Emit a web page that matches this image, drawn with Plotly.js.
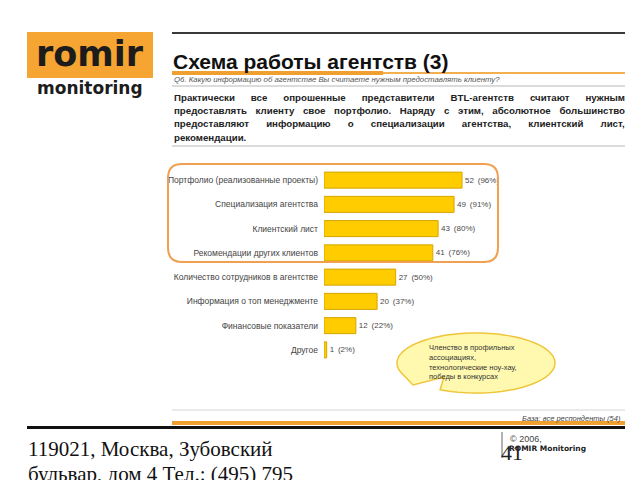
<!DOCTYPE html>
<html>
<head>
<meta charset="utf-8">
<script src="https://cdn.plot.ly/plotly-3.0.1.min.js"></script>
<style>html,body{margin:0;padding:0;background:#fff;}#chart{width:640px;height:480px;}</style>
</head>
<body>
<div id="chart"></div>
<script>
// ---------- data ----------
const categories = [
  "Портфолио (реализованные проекты)",
  "Специализация агентства",
  "Клиентский лист",
  "Рекомендации других клиентов",
  "Количество сотрудников в агентстве",
  "Информация о топ менеджменте",
  "Финансовые показатели",
  "Другое"
];
const counts = [52, 49, 43, 41, 27, 20, 12, 1];
const percents = [96, 91, 80, 76, 50, 37, 22, 2];

const titleText = "Схема работы агентств (3)";
const questionText = "Q6. Какую информацию об агентстве Вы считаете нужным предоставлять клиенту?";
const bodyLines = [
  "Практически все опрошенные представители BTL-агентств считают нужным",
  "предоставлять клиенту свое портфолио. Наряду с этим, абсолютное большинство",
  "предоставляют информацию о специализации агентства, клиентский лист,",
  "рекомендации."
];
const calloutLines = ["Членство в профильных", "ассоциациях,", "технологические ноу-хау,", "победы в конкурсах"];
const baseText = "База: все респонденты (54)";
const addressLines = ["119021, Москва, Зубовский", "бульвар, дом 4 Тел.: (495) 795"];

// ---------- helpers (pixel -> paper) ----------
const W = 640, H = 480;
const X = p => p / W;
const Y = p => 1 - p / H;
const pt = (x, y) => X(x).toFixed(5) + "," + Y(y).toFixed(5);

function hline(x0, x1, y, color, width) {
  return {type: "line", xref: "paper", yref: "paper", x0: X(x0), x1: X(x1), y0: Y(y), y1: Y(y),
          line: {color: color, width: width}};
}
function roundRect(x0, y0, x1, y1, r) {
  return "M" + pt(x0 + r, y0) + " L" + pt(x1 - r, y0) + " Q" + pt(x1, y0) + " " + pt(x1, y0 + r) +
         " L" + pt(x1, y1 - r) + " Q" + pt(x1, y1) + " " + pt(x1 - r, y1) +
         " L" + pt(x0 + r, y1) + " Q" + pt(x0, y1) + " " + pt(x0, y1 - r) +
         " L" + pt(x0, y0 + r) + " Q" + pt(x0, y0) + " " + pt(x0 + r, y0) + " Z";
}
function calloutPath(cx, cy, rx, ry, a0, a1, tail) {
  let s = "";
  const n = 90;
  for (let i = 0; i <= n; i++) {
    const a = (a0 + (a1 - a0) * i / n) * Math.PI / 180;
    const x = cx + rx * Math.cos(a), y = cy + ry * Math.sin(a);
    s += (i === 0 ? "M" : " L") + pt(x, y);
  }
  tail.forEach(p => { s += " L" + pt(p[0], p[1]); });
  return s + " Z";
}

function ann(text, x, y, opts) {
  return Object.assign({
    text: text, xref: "paper", yref: "paper", x: X(x), y: Y(y),
    xanchor: "left", yanchor: "middle", showarrow: false, align: "left",
    font: {family: "Arial, 'Liberation Sans', sans-serif", size: 10, color: "#222"}
  }, opts || {});
}

// ---------- trace ----------
const barText = counts.map((c, i) => c + "\u00A0\u2009(" + percents[i] + "%)");
const trace = {
  type: "bar",
  orientation: "h",
  y: categories,
  x: counts,
  text: barText,
  textposition: "outside",
  cliponaxis: false,
  constraintext: "none",
  textfont: {family: "Arial, 'Liberation Sans', sans-serif", size: 8, color: "#4a4a4a"},
  marker: {color: "#FFCC00", line: {color: "#D4A600", width: 1}},
  hoverinfo: "skip"
};

const pxPerUnit = 2.654;
const xMax = 75;
const barLeft = 324;

// ---------- layout ----------
const shapes = [
  {type: "rect", xref: "paper", yref: "paper", x0: X(27), x1: X(153), y0: Y(78), y1: Y(32),
   fillcolor: "#F7A532", line: {width: 0}},
  hline(172, 625, 33, "#3a3a3a", 2),
  hline(172, 383, 73, "#F0A030", 4),
  hline(383, 625, 73, "#F3B050", 2),
  hline(172, 625, 86, "#CFCFCF", 1.5),
  hline(172, 625, 146, "#CFCFCF", 1.5),
  {type: "path", xref: "paper", yref: "paper", path: roundRect(168, 164, 498, 262, 14),
   line: {color: "#F0A050", width: 2}, fillcolor: "rgba(0,0,0,0)"},
  {type: "path", xref: "paper", yref: "paper",
   path: calloutPath(476, 363, 79, 30, 117, -199.5, [[413, 385], [444, 377]]),
   line: {color: "#EFC53A", width: 1.5}, fillcolor: "#FFF9B0"},
  hline(172, 625, 410, "#D5D5D5", 1),
  hline(172, 625, 423, "#F0A030", 4),
  hline(27, 625, 427.5, "#111111", 3),
  {type: "line", xref: "paper", yref: "paper", x0: X(502), x1: X(502), y0: Y(432), y1: Y(458),
   line: {color: "#666", width: 1}}
];

const justifyIdx = [];
const annotations = [
  ann("romir", 90, 54, {xanchor: "center", align: "center", font: {family: "DejaVu Sans", size: 35, color: "#1c1c1c", weight: "bold"}}),
  ann("monitoring", 90, 88, {xanchor: "center", align: "center", font: {family: "DejaVu Sans", size: 17, color: "#1c1c1c", weight: "bold"}}),
  ann("<b>" + titleText + "</b>", 171, 62, {font: {family: "Arial, 'Liberation Sans', sans-serif", size: 21, color: "#111"}}),
  ann("<i>" + questionText + "</i>", 172, 80, {font: {family: "Arial, 'Liberation Sans', sans-serif", size: 7.8, color: "#555"}}),
  ann("<i>" + baseText + "</i>", 623, 418, {xanchor: "right", align: "right", font: {family: "Arial, 'Liberation Sans', sans-serif", size: 7.5, color: "#444"}}),
  ann(calloutLines.join("<br>"), 427, 362, {font: {family: "Arial, 'Liberation Sans', sans-serif", size: 7.5, color: "#333"}}),
  ann("© 2006,", 508, 439, {font: {family: "Arial, 'Liberation Sans', sans-serif", size: 9, color: "#444"}}),
  ann("<b>ROMIR Monitoring</b>", 507, 448, {font: {family: "DejaVu Sans", size: 7.5, color: "#222"}}),
  ann("41", 499, 452, {font: {family: "'Liberation Serif', 'Times New Roman', serif", size: 22, color: "#222"}}),
  ann(addressLines[0], 26, 449, {font: {family: "'Liberation Serif', 'Times New Roman', serif", size: 21, color: "#111"}}),
  ann(addressLines[1], 26, 474, {font: {family: "'Liberation Serif', 'Times New Roman', serif", size: 21, color: "#111"}})
];
const bodyY = [98, 111, 124, 137];
bodyLines.forEach((line, i) => {
  if (i < 3) justifyIdx.push(annotations.length);
  annotations.push(ann("<b>" + line + "</b>", 172, bodyY[i],
    {font: {family: "Arial, 'Liberation Sans', sans-serif", size: 9.7, color: "#222"}}));
});

const layout = {
  width: W, height: H,
  margin: {l: 0, r: 0, t: 0, b: 0},
  paper_bgcolor: "#fff", plot_bgcolor: "rgba(0,0,0,0)",
  showlegend: false,
  bargap: 0.34,
  xaxis: {
    domain: [X(barLeft), X(barLeft + xMax * pxPerUnit)],
    range: [0, xMax], visible: false, fixedrange: true
  },
  yaxis: {
    domain: [Y(362), Y(168)],
    type: "category", autorange: "reversed",
    showline: false, showgrid: false, zeroline: false, ticks: "",
    ticklabelstandoff: 5,
    tickfont: {family: "Arial, 'Liberation Sans', sans-serif", size: 8.5, color: "#444"},
    fixedrange: true
  },
  shapes: shapes,
  annotations: annotations
};

Plotly.newPlot("chart", [trace], layout, {staticPlot: true, displayModeBar: false}).then(gd => {
  // justify the body text lines so that their right edge lands at x = 625 px
  const rightEdge = 625;
  const host = gd.getBoundingClientRect();
  justifyIdx.forEach(i => {
    const t = gd.querySelector('g.annotation[data-index="' + i + '"] text.annotation-text');
    if (!t) return;
    const spaces = (t.textContent.match(/ /g) || []).length;
    if (!spaces) return;
    t.style.wordSpacing = "0px";
    const r = t.getBoundingClientRect();
    const extra = rightEdge - (r.right - host.left);
    if (extra > 0) t.style.wordSpacing = (extra / spaces) + "px";
  });
});
</script>
</body>
</html>
